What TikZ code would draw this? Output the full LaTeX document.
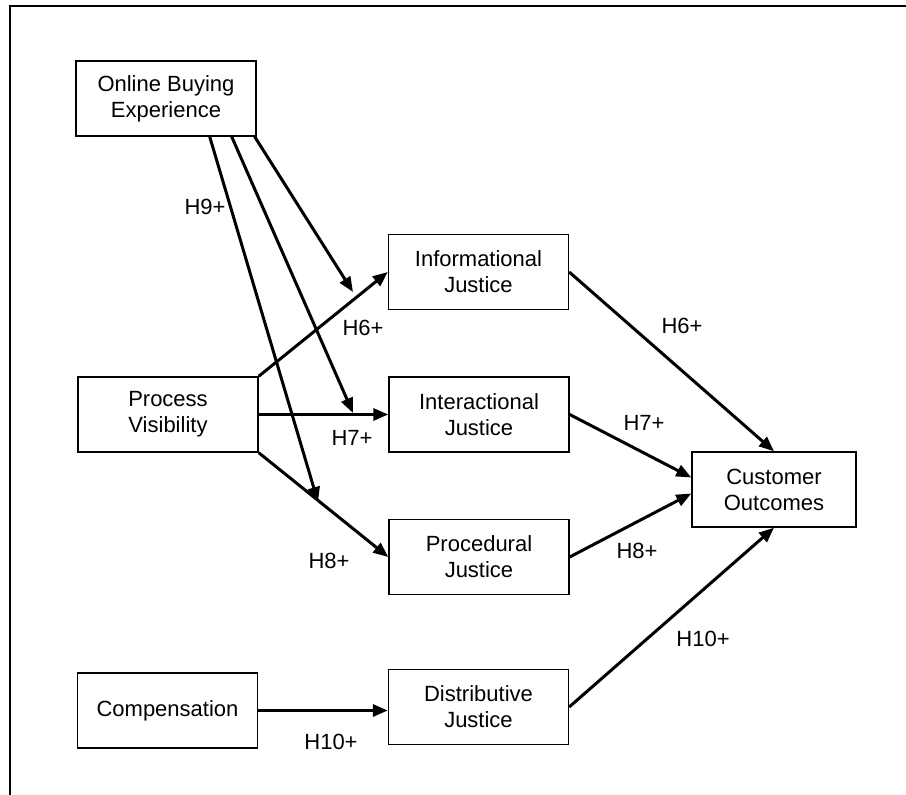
\documentclass[tikz,border=0pt]{standalone}
\usepackage{fontspec}
\setmainfont{Liberation Sans}
\usetikzlibrary{arrows.meta, calc}

\begin{document}
\begin{tikzpicture}[x=1pt, y=-1pt, >={Triangle[length=15pt,width=12pt]},
    box/.style={draw, line width=1.4pt, minimum width=180pt, minimum height=75pt,
        align=center, inner sep=0pt, font=\fontsize{22}{26}\selectfont},
    link/.style={->, line width=3pt},
    hyp/.style={inner sep=0pt, font=\fontsize{22}{26}\selectfont}]
        \useasboundingbox (0,0) rectangle (906,795);

        % Frame (only top and left edge are inside the page)
        \draw[line width=2pt] (906,6) -- (10,6) -- (10,795);

        % Antecedents
        \node[box] (obe) at (166,98.5) {Online Buying\\ Experience};
        \node[box] (pv) at (168,414.5) {Process\\Visibility};
        \node[box] (comp) at (167.5,710.5) {Compensation};

        % Justice dimensions
        \node[box] (info) at (478.5,272) {Informational\\Justice};
        \node[box] (inter) at (479,414.5) {Interactional\\Justice};
        \node[box] (proc) at (479,557) {Procedural\\Justice};
        \node[box] (dist) at (478.5,707) {Distributive\\Justice};

        % Outcome
        \node[box, minimum width=164pt] (co) at (774,489.5) {Customer\\Outcomes};

        % Free ends of the moderating arrows
        \coordinate (m6) at (353,292);
        \coordinate (m7) at (353,413);
        \coordinate (m8) at (318,502);

        % Arrows into the justice boxes
        \draw[link] (pv.north east) -- (info.west);
        \draw[link] (pv.east) -- (inter.west);
        \draw[link] (pv.south east) -- (proc.west);
        \draw[link] (comp.east) -- (comp.east -| dist.west);

        % Moderating arrows from online buying experience
        \draw[link] ([xshift=-2pt]obe.south east) -- (m6);
        \draw[link] ([xshift=-25pt]obe.south east) -- (m7);
        \draw[link] ([xshift=-47pt]obe.south east) -- (m8);

        % Arrows into customer outcomes
        \draw[link] (info.east) -- (co.north);
        \draw[link] (inter.east) -- ([yshift=12pt]co.west);
        \draw[link] (proc.east) -- ([yshift=-4pt]co.west);
        \draw[link] (dist.east) -- (co.south);

        % Hypothesis labels
        \node[hyp] (h9) at (205,207) {H9+};
        \node[hyp] (h6a) at (363,328) {H6+};
        \node[hyp] (h7a) at (352,438) {H7+};
        \node[hyp] (h8a) at (329,561) {H8+};
        \node[hyp] (h10a) at (331,742) {H10+};
        \node[hyp] (h6b) at (682,326) {H6+};
        \node[hyp] (h7b) at (644,423) {H7+};
        \node[hyp] (h8b) at (637,551) {H8+};
        \node[hyp] (h10b) at (703,639) {H10+};
    \end{tikzpicture}
\end{document}
